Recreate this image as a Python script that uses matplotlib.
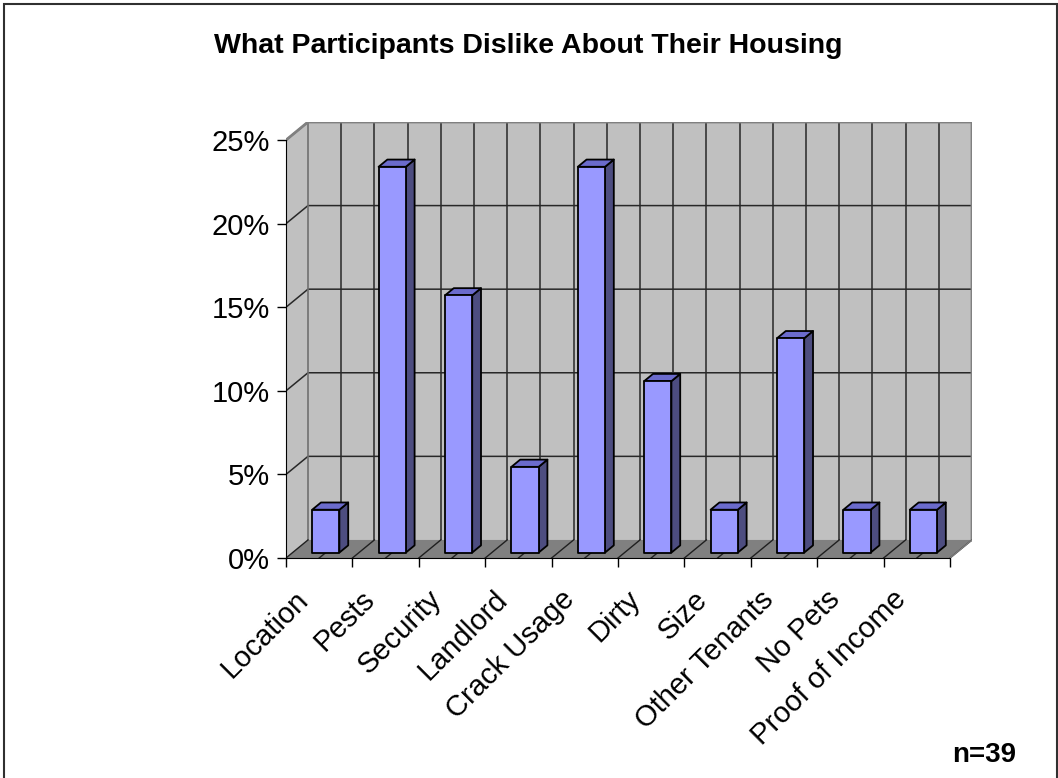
import matplotlib.pyplot as plt
from matplotlib.patches import Polygon, Rectangle
from matplotlib.transforms import ScaledTranslation
import numpy as np

plt.rcParams['font.family'] = ['Liberation Sans', 'DejaVu Sans']

categories = ['Location', 'Pests', 'Security', 'Landlord', 'Crack Usage',
              'Dirty', 'Size', 'Other Tenants', 'No Pets', 'Proof of Income']
counts = [1, 9, 6, 2, 9, 4, 1, 5, 1, 1]
n_total = 39
values = [100.0 * c / n_total for c in counts]
yticks = [0, 5, 10, 15, 20, 25]

# 3d look: depth offset in data units
DX = 0.331   # categories
DY = 1.08    # percent
bar_w = 0.41
d0, d1 = 0.3, 0.7

fig = plt.figure(figsize=(10.58, 7.78), dpi=100)
ax = fig.add_axes([286 / 1058, (778 - 558) / 778, 686 / 1058, 436 / 778])
ax.set_xlim(0, 10 + DX)
ax.set_ylim(0, 25 + DY)
ax.patch.set_visible(False)

ncat = len(categories)
wall = '#c0c0c0'
floor = '#808080'
grid = '#282828'

# walls
ax.add_patch(Polygon([(0, 0), (0, 25), (DX, 25 + DY), (DX, DY)], closed=True,
                     facecolor=wall, edgecolor='none', zorder=1))
ax.add_patch(Polygon([(DX, DY), (DX, 25 + DY), (ncat + DX, 25 + DY), (ncat + DX, DY)],
                     closed=True, facecolor=wall, edgecolor='none', zorder=1))

# gridlines
for v in yticks[1:]:
    ax.plot([0, DX, ncat + DX], [v, v + DY, v + DY], color=grid, lw=1.1, zorder=2)
for k in np.arange(1, 2 * ncat) / 2:
    ax.plot([k + DX, k + DX], [DY, 25 + DY], color=grid, lw=1.1, zorder=2)
ax.plot([DX, DX], [DY, 25 + DY], color='#707070', lw=1.2, zorder=2)
ax.plot([0, DX, ncat + DX, ncat + DX], [25, 25 + DY, 25 + DY, DY],
        color='#808080', lw=2.0, zorder=2)

# floor
ax.add_patch(Polygon([(0, 0), (ncat, 0), (ncat + DX, DY), (DX, DY)], closed=True,
                     facecolor=floor, edgecolor='none', zorder=3))
for k in np.arange(0, 2 * ncat + 1) / 2:
    ax.plot([k, k + DX], [0, DY], color='#202020', lw=1.0, zorder=4)
ax.plot([ncat, ncat + DX], [0, DY], color='#808080', lw=1.0, zorder=4)

# bars
for i, v in enumerate(values):
    x0 = i + 0.5 - bar_w / 2 + d0 * DX
    x1 = x0 + bar_w
    yb = d0 * DY
    yt = v + d0 * DY
    ddx = (d1 - d0) * DX
    ddy = (d1 - d0) * DY
    kw = dict(closed=True, edgecolor='black', lw=1.3, zorder=5 + i, joinstyle='round')
    ax.add_patch(Polygon([(x1, yb), (x1 + ddx, yb + ddy), (x1 + ddx, yt + ddy), (x1, yt)],
                         facecolor='#4d4d80', **kw))
    ax.add_patch(Polygon([(x0, yt), (x1, yt), (x1 + ddx, yt + ddy), (x0 + ddx, yt + ddy)],
                         facecolor='#6b6bcc', **kw))
    ax.add_patch(Polygon([(x0, yb), (x1, yb), (x1, yt), (x0, yt)],
                         facecolor='#9999ff', **kw))

# axes
for s in ['top', 'right']:
    ax.spines[s].set_visible(False)
ax.spines['left'].set_bounds(0, 25)
ax.spines['bottom'].set_bounds(0, ncat)
ax.spines['left'].set_zorder(20)
ax.spines['bottom'].set_zorder(20)
ax.set_yticks(yticks, [f'{t}%' for t in yticks], fontsize=21)
ax.tick_params(axis='y', length=6.5, width=1, pad=5)
ax.set_xticks(range(ncat + 1), [])
ax.tick_params(axis='x', length=6.5, width=1)

off = ScaledTranslation(-15 / 100, -37 / 100, fig.dpi_scale_trans)
for i, lab in enumerate(categories):
    ax.text(i + 0.5, 0, lab, rotation=45, rotation_mode='anchor', ha='right',
            va='center', fontsize=21, transform=ax.transData + off, clip_on=False)

fig.text(528 / 1058, 1 - 53 / 778, 'What Participants Dislike About Their Housing',
         ha='center', va='baseline', fontsize=20.5, fontweight='bold')
fig.text(952 / 1058, 1 - 762 / 778, f'n={n_total}', ha='left', va='baseline',
         fontsize=20, fontweight='bold')

fig.patches.append(Rectangle((3.5 / 1058, -0.02), (1057 - 3.5) / 1058, 1.02 - 4.5 / 778,
                             transform=fig.transFigure, fill=False,
                             edgecolor='#303030', lw=1.5))

fig.savefig('out.png', dpi=100)
